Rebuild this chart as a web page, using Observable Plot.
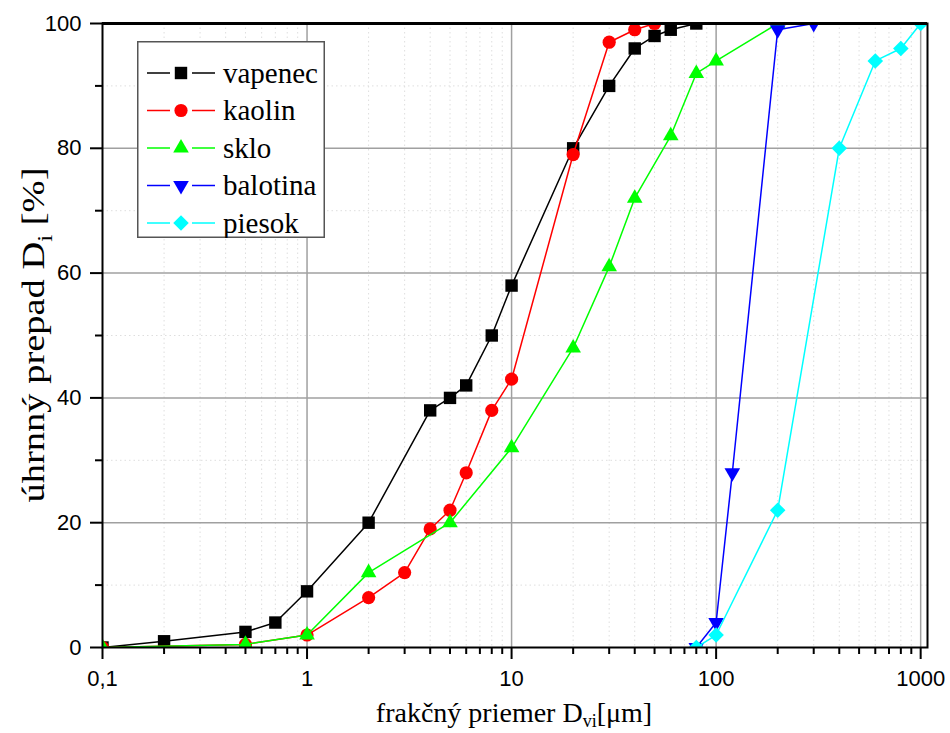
<!DOCTYPE html>
<html><head><meta charset="utf-8">
<script src="https://cdn.jsdelivr.net/npm/d3@7"></script>
<script src="https://cdn.jsdelivr.net/npm/@observablehq/plot@0.6"></script>
<style>
body{margin:0;background:#fff;}
#wrap{position:relative;width:950px;height:733px;overflow:hidden;background:#fff;}
#legend{position:absolute;left:137px;top:41px;}
</style></head><body><div id="wrap"></div>
<script>
// ---- data ----
const seriesNames = ["vapenec", "kaolin", "sklo", "balotina", "piesok"];
const seriesColors = ["#000000", "#ff0000", "#00ff00", "#0000ff", "#00ffff"];

const vapenecD = [0.1, 0.2, 0.5, 0.7, 1, 2, 4, 5, 6, 8, 10, 20, 30, 40, 50, 60, 80];
const vapenecP = [0, 1, 2.5, 4, 9, 20, 38, 40, 42, 50, 58, 80, 90, 96, 98, 99, 100];

const kaolinD = [0.1, 0.5, 1, 2, 3, 4, 5, 6, 8, 10, 20, 30, 40, 50];
const kaolinP = [0, 0.5, 2, 8, 12, 19, 22, 28, 38, 43, 79, 97, 99, 100];

const skloD = [0.1, 0.5, 1, 2, 5, 10, 20, 30, 40, 60, 80, 100, 200];
const skloP = [0, 0.5, 2, 12, 20, 32, 48, 61, 72, 82, 92, 94, 100];

const balotinaD = [80, 100, 120, 200, 300];
const balotinaP = [0, 4, 28, 99, 100];

const piesokD = [80, 100, 200, 400, 600, 800, 1000];
const piesokP = [0, 2, 22, 80, 94, 96, 100];

const xTicks = [0.1, 1, 10, 100, 1000];
const xTickLabels = ["0,1", "1", "10", "100", "1000"];
const xMinorTicks = [0.2, 0.3, 0.4, 0.5, 0.6, 0.7, 0.8, 0.9,
  2, 3, 4, 5, 6, 7, 8, 9,
  20, 30, 40, 50, 60, 70, 80, 90,
  200, 300, 400, 500, 600, 700, 800, 900];
const yTicks = [0, 20, 40, 60, 80, 100];
const yMinorTicks = [10, 30, 50, 70, 90];
const xGridMajor = [1, 10, 100, 1000];
const yGridMajor = [20, 40, 60, 80];

// ---- build table ----
const seriesD = [vapenecD, kaolinD, skloD, balotinaD, piesokD];
const seriesP = [vapenecP, kaolinP, skloP, balotinaP, piesokP];
const tables = seriesNames.map((name, i) =>
  seriesD[i].map((d, j) => ({series: name, D: d, P: seriesP[i][j]})));

const triangleDown = {
  draw(context, size) {
    const y = -Math.sqrt(size / (Math.sqrt(3) * 3));
    context.moveTo(0, -y * 2);
    context.lineTo(-Math.sqrt(3) * y, y);
    context.lineTo(Math.sqrt(3) * y, y);
    context.closePath();
  }
};
const seriesSymbols = ["square", "circle", "triangle", triangleDown, "diamond2"];
const seriesR = [7, 6.6, 5.8, 5.8, 7];

const labelMap = new Map(xTicks.map((t, i) => [t, xTickLabels[i]]));

const seriesMarks = [];
tables.forEach((rows, i) => {
  seriesMarks.push(Plot.line(rows, {x: "D", y: "P", stroke: seriesColors[i], strokeWidth: 1.5, clip: true}));
  seriesMarks.push(Plot.dot(rows, {x: "D", y: "P", symbol: seriesSymbols[i], r: seriesR[i],
    fill: seriesColors[i], stroke: "none", clip: true}));
});

const chart = Plot.plot({
  width: 950, height: 733,
  marginLeft: 102, marginRight: 23, marginTop: 23, marginBottom: 86,
  x: {type: "log", domain: [0.1, 1080]},
  y: {domain: [0, 100]},
  style: {fontFamily: "'Liberation Sans', Arial, sans-serif", fontSize: "22px", background: "white", color: "black", overflow: "visible"},
  marks: [
    Plot.ruleX(xMinorTicks, {stroke: "#dedede", strokeWidth: 1, strokeDasharray: "1.5,3"}),
    Plot.ruleY(yMinorTicks, {stroke: "#dedede", strokeWidth: 1, strokeDasharray: "1.5,3"}),
    Plot.ruleX(xGridMajor, {stroke: "#a0a0a0", strokeWidth: 1.5}),
    Plot.ruleY(yGridMajor, {stroke: "#a0a0a0", strokeWidth: 1.5}),
    ...seriesMarks,
    Plot.frame({stroke: "black", strokeWidth: 2}),
    Plot.ruleY([100], {stroke: "black", strokeWidth: 3}),
    Plot.axisX(xTicks, {tickSize: 12, tickPadding: 11, strokeWidth: 2, tickFormat: d => labelMap.get(d), label: null, fontSize: 22}),
    Plot.axisX(xMinorTicks, {tickSize: 7, strokeWidth: 2, tickFormat: () => "", label: null}),
    Plot.axisY(yTicks, {tickSize: 12, tickPadding: 9, strokeWidth: 2, label: null, fontSize: 22}),
    Plot.axisY(yMinorTicks, {tickSize: 7, strokeWidth: 2, tickFormat: () => "", label: null})
  ]
});

const wrap = document.getElementById("wrap");
wrap.appendChild(chart);

// axis titles
const svg = d3.select(chart);
const xt = svg.append("text")
  .attr("x", 514).attr("y", 722)
  .attr("text-anchor", "middle")
  .style("font-family", "'Liberation Serif', 'Times New Roman', serif")
  .style("font-size", "28px").attr("fill", "black");
xt.append("tspan").text("frakčný priemer D");
xt.append("tspan").attr("dy", 5).style("font-size", "18px").text("vi");
xt.append("tspan").attr("dy", -5).text("[μm]");

const yt = svg.append("text")
  .attr("transform", "translate(44,335) rotate(-90)")
  .attr("text-anchor", "middle")
  .attr("textLength", 335).attr("lengthAdjust", "spacingAndGlyphs")
  .style("font-family", "'Liberation Serif', 'Times New Roman', serif")
  .style("font-size", "31px").attr("fill", "black");
yt.append("tspan").text("úhrnný prepad D");
yt.append("tspan").attr("dy", 8).style("font-size", "20px").text("i");
yt.append("tspan").attr("dy", -8).text(" [%]");

// legend
const lw = 188, lh = 197;
const leg = d3.select(wrap).append("svg").attr("id", "legend")
  .attr("width", lw).attr("height", lh);
leg.append("rect").attr("x", 0.75).attr("y", 0.75).attr("width", lw - 1.5).attr("height", lh - 1.5)
  .attr("fill", "white").attr("stroke", "#555").attr("stroke-width", 1.5);
seriesNames.forEach((name, i) => {
  const cy = 32 + i * 37.5;
  const g = leg.append("g");
  g.append("line").attr("x1", 10).attr("x2", 33).attr("y1", cy).attr("y2", cy)
    .attr("stroke", seriesColors[i]).attr("stroke-width", 1.5);
  g.append("line").attr("x1", 55).attr("x2", 78).attr("y1", cy).attr("y2", cy)
    .attr("stroke", seriesColors[i]).attr("stroke-width", 1.5);
  const sym = typeof seriesSymbols[i] === "string"
    ? {square: d3.symbolSquare, circle: d3.symbolCircle, triangle: d3.symbolTriangle, diamond2: d3.symbolDiamond2}[seriesSymbols[i]]
    : seriesSymbols[i];
  g.append("path").attr("transform", `translate(44,${cy})`)
    .attr("d", d3.symbol(sym, Math.PI * seriesR[i] * seriesR[i])())
    .attr("fill", seriesColors[i]);
  g.append("text").attr("x", 86).attr("y", cy).attr("dy", "0.33em")
    .style("font-family", "'Liberation Serif', 'Times New Roman', serif")
    .style("font-size", "29px").attr("fill", "black").text(name);
});
</script></body></html>
